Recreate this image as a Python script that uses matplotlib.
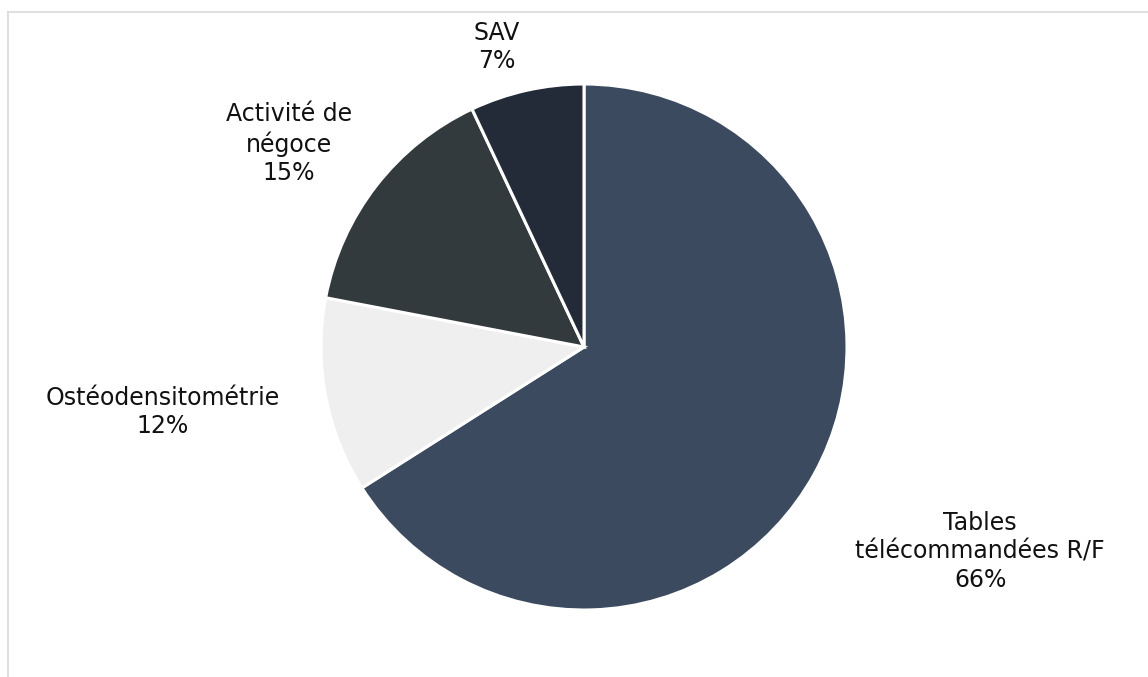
import matplotlib
matplotlib.use("Agg")
import matplotlib.pyplot as plt
from matplotlib.lines import Line2D
import numpy as np

categories = ["Tables\ntélécommandées R/F", "Ostéodensitométrie", "Activité de\nnégoce", "SAV"]
values = [66, 12, 15, 7]
colors = ["#3B4A5F", "#EFEFEF", "#333A3D", "#232B38"]
# label centre positions (in pie-radius units) relative to pie centre
label_pos = [(1.506, -0.776), (-1.601, -0.247), (-1.122, 0.772), (-0.331, 1.141)]

W, H = 1148, 677
fig = plt.figure(figsize=(W / 100, H / 100), dpi=100)
cx, cy, r = 584, 347, 263
ax = fig.add_axes([(cx - r) / W, (H - cy - r) / H, 2 * r / W, 2 * r / H])
ax.pie(values, colors=colors, startangle=90, counterclock=False, radius=1,
       wedgeprops=dict(edgecolor="white", linewidth=2.2))
ax.set_xlim(-1, 1)
ax.set_ylim(-1, 1)
ax.set_aspect("equal")
ax.axis("off")

for cat, v, (lx, ly) in zip(categories, values, label_pos):
    ax.text(lx, ly, f"{cat}\n{v}%", ha="center", va="center", fontsize=17,
            color="#111111", linespacing=1.24, family="DejaVu Sans")

# frame lines (top and left)
fig.add_artist(Line2D([8 / W, 1], [1 - 12 / H, 1 - 12 / H], transform=fig.transFigure,
                      color="#D9D9D9", linewidth=1.2))
fig.add_artist(Line2D([8 / W, 8 / W], [1 - 12 / H, 0], transform=fig.transFigure,
                      color="#D9D9D9", linewidth=1.2))

fig.savefig("out.png", dpi=100)
